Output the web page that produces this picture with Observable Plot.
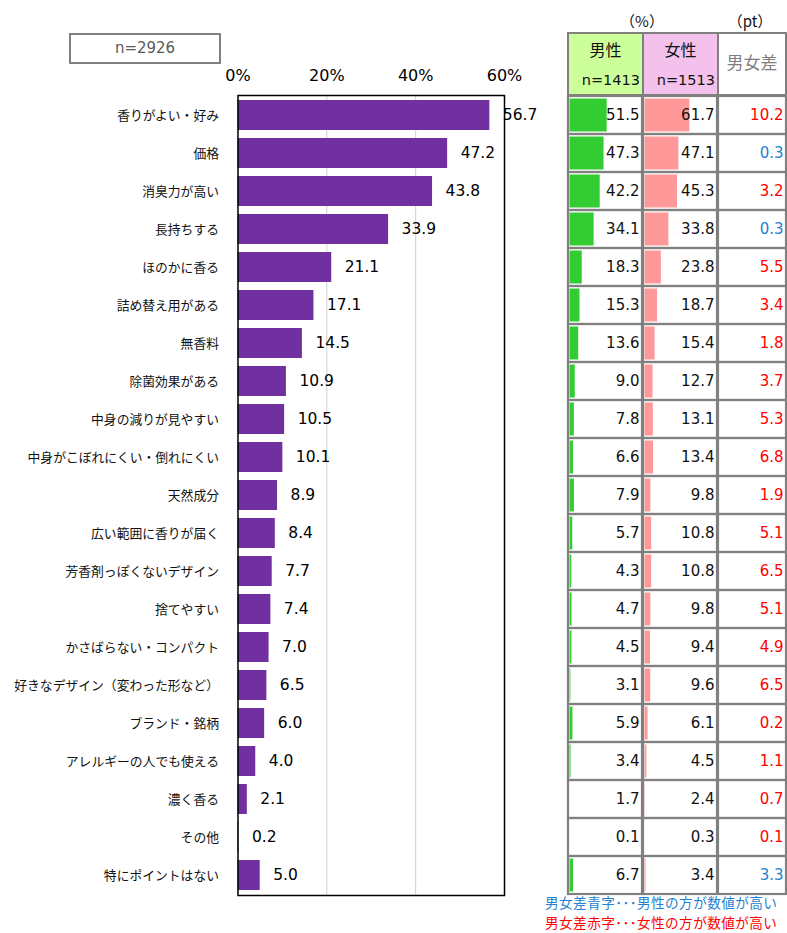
<!DOCTYPE html>
<html>
<head>
<meta charset="utf-8">
<script src="https://cdn.jsdelivr.net/npm/d3@7"></script>
<script src="https://cdn.jsdelivr.net/npm/@observablehq/plot@0.6"></script>
<style>
  html, body { margin: 0; padding: 0; background: #fff; }
  #root { position: relative; width: 787px; height: 933px; overflow: hidden; font-family: "Noto Sans CJK JP", sans-serif; }
  .abs { position: absolute; }
  #root svg { background: transparent !important; overflow: visible !important; max-width: none !important; }
  .hdr { position: absolute; box-sizing: border-box; border: 2px solid #808080; }
  .num { font-family: "DejaVu Sans", sans-serif; }
</style>
</head>
<body>
<div id="root"></div>
<script>
// ---- data ----
const categories = [
  "香りがよい・好み", "価格", "消臭力が高い", "長持ちする", "ほのかに香る",
  "詰め替え用がある", "無香料", "除菌効果がある", "中身の減りが見やすい",
  "中身がこぼれにくい・倒れにくい", "天然成分", "広い範囲に香りが届く",
  "芳香剤っぽくないデザイン", "捨てやすい", "かさばらない・コンパクト",
  "好きなデザイン（変わった形など）", "ブランド・銘柄", "アレルギーの人でも使える",
  "濃く香る", "その他", "特にポイントはない"
];
const totalValues  = [56.7, 47.2, 43.8, 33.9, 21.1, 17.1, 14.5, 10.9, 10.5, 10.1, 8.9, 8.4, 7.7, 7.4, 7.0, 6.5, 6.0, 4.0, 2.1, 0.2, 5.0];
const maleValues   = [51.5, 47.3, 42.2, 34.1, 18.3, 15.3, 13.6, 9.0, 7.8, 6.6, 7.9, 5.7, 4.3, 4.7, 4.5, 3.1, 5.9, 3.4, 1.7, 0.1, 6.7];
const femaleValues = [61.7, 47.1, 45.3, 33.8, 23.8, 18.7, 15.4, 12.7, 13.1, 13.4, 9.8, 10.8, 10.8, 9.8, 9.4, 9.6, 6.1, 4.5, 2.4, 0.3, 3.4];
const diffValues   = [10.2, 0.3, 3.2, 0.3, 5.5, 3.4, 1.8, 3.7, 5.3, 6.8, 1.9, 5.1, 6.5, 5.1, 4.9, 6.5, 0.2, 1.1, 0.7, 0.1, 3.3];
const xTicks = [0, 20, 40, 60];
const totalN = "n=2926", maleN = "n=1413", femaleN = "n=1513";
const maleLabel = "男性", femaleLabel = "女性", diffLabel = "男女差";
const pctUnit = "（%）", ptUnit = "（pt）";
const noteBlue = "男女差青字･･･男性の方が数値が高い";
const noteRed  = "男女差赤字･･･女性の方が数値が高い";

const rows = categories.map((c, i) => ({
  cat: c, total: totalValues[i], male: maleValues[i], female: femaleValues[i], diff: diffValues[i]
}));

const PURPLE = "#7030A0", GREEN = "#33CC33", PINK = "#FF9999", RED = "#FF0000", BLUE = "#1F7FD0", GRID = "#808080";
const NUMFONT = "DejaVu Sans, sans-serif";
const H = 933, MT = 95, MB = 38;

const root = document.getElementById("root");
function place(el, left, top) {
  const d = document.createElement("div");
  d.className = "abs";
  d.style.left = left + "px"; d.style.top = top + "px";
  d.appendChild(el);
  root.appendChild(d);
  return d;
}

// ---- left bar chart ----
const left = Plot.plot({
  width: 560, height: H, marginLeft: 237.5, marginRight: 56, marginTop: MT, marginBottom: MB,
  style: { fontFamily: "Noto Sans CJK JP, sans-serif", color: "#000" },
  x: { domain: [0, 60] },
  y: { domain: categories, paddingInner: 0.21, paddingOuter: 0.105 },
  marks: [
    Plot.gridX([20, 40], { stroke: "#d0d0d0", strokeOpacity: 1, strokeWidth: 1 }),
    Plot.barX(rows, { y: "cat", x: "total", fill: PURPLE }),
    Plot.frame({ stroke: "#000", strokeWidth: 1.5 }),
    Plot.axisX(xTicks, { anchor: "top", label: null, tickSize: 0, tickPadding: 15, tickFormat: d => d + "%", fontSize: 16, fontFamily: NUMFONT, fill: "#000" }),
    Plot.axisY({ tickSize: 0, tickPadding: 19, fontSize: 12.8, fill: "#111", label: null }),
    Plot.text(rows, { y: "cat", x: "total", text: d => d.total.toFixed(1), textAnchor: "start", dx: 13, fontSize: 15.5, fontFamily: NUMFONT, fill: "#000" })
  ]
});
place(left, 0, 0);

// ---- table columns ----
function column(key, fill, leftPos, width, mr, colorFn) {
  const marks = [];
  if (fill) marks.push(Plot.barX(rows, { y: "cat", x: key, fill, insetTop: 2.5, insetBottom: 2.5, insetLeft: 1.5 }));
  marks.push(Plot.cell(rows, { y: "cat", stroke: GRID, strokeWidth: 2.2, fill: "none" }));
  marks.push(Plot.text(rows, {
    y: "cat", text: d => d[key].toFixed(1), frameAnchor: "right", textAnchor: "end", dx: -3,
    fontSize: 15, fontFamily: NUMFONT, fill: colorFn || "#111"
  }));
  const p = Plot.plot({
    width, height: H, marginLeft: 2, marginRight: mr, marginTop: MT, marginBottom: MB,
    x: { domain: [0, 98.5], axis: null },
    y: { domain: categories, padding: 0, axis: null },
    marks
  });
  place(p, leftPos, 0);
}
column("male", GREEN, 566, 78, 2);
column("female", PINK, 641, 78, 2);
column("diff", null, 716, 71, 1, d => (d.male > d.female ? BLUE : RED));

// ---- header cells ----
function hdr(left, width, bg, html) {
  const d = document.createElement("div");
  d.className = "hdr";
  d.style.left = left + "px"; d.style.top = "32px";
  d.style.width = width + "px"; d.style.height = "64px";
  d.style.background = bg;
  d.innerHTML = html;
  root.appendChild(d);
}
hdr(567, 77, "#CCFF99",
  `<div style="position:absolute;left:0;right:0;top:3px;text-align:center;font-size:16px;color:#111">${maleLabel}</div>
   <div class="num" style="position:absolute;right:2px;top:38px;font-size:14.5px;color:#111">${maleN}</div>`);
hdr(642, 77, "#F3C1EC",
  `<div style="position:absolute;left:0;right:0;top:3px;text-align:center;font-size:16px;color:#111">${femaleLabel}</div>
   <div class="num" style="position:absolute;right:2px;top:38px;font-size:14.5px;color:#111">${femaleN}</div>`);
hdr(717, 70, "#fff",
  `<div style="position:absolute;left:0;right:0;top:15px;text-align:center;font-size:17px;color:#7f7f7f">${diffLabel}</div>`);

// units
function label(text, left, top, size, color, extra) {
  const d = document.createElement("div");
  d.className = "abs";
  d.style.left = left + "px"; d.style.top = top + "px";
  d.style.fontSize = size + "px"; d.style.color = color;
  d.style.whiteSpace = "nowrap";
  if (extra) Object.assign(d.style, extra);
  d.textContent = text;
  root.appendChild(d);
  return d;
}
label(pctUnit, 612, 10, 15, "#111", { width: "60px", textAlign: "center" });
label(ptUnit, 720, 10, 15, "#111", { width: "60px", textAlign: "center" });

// n box
const nb = document.createElement("div");
nb.className = "abs num";
Object.assign(nb.style, { left: "69px", top: "33px", width: "152px", height: "31px", boxSizing: "border-box",
  border: "2px solid #808080", textAlign: "center", lineHeight: "27px", fontSize: "15px", color: "#595959" });
nb.textContent = totalN;
root.appendChild(nb);

// notes
label(noteBlue, 545, 892, 13.6, BLUE, { lineHeight: "20px", letterSpacing: "0.45px" });
label(noteRed, 545, 912, 13.6, RED, { lineHeight: "20px", letterSpacing: "0.45px" });
</script>
</body>
</html>
